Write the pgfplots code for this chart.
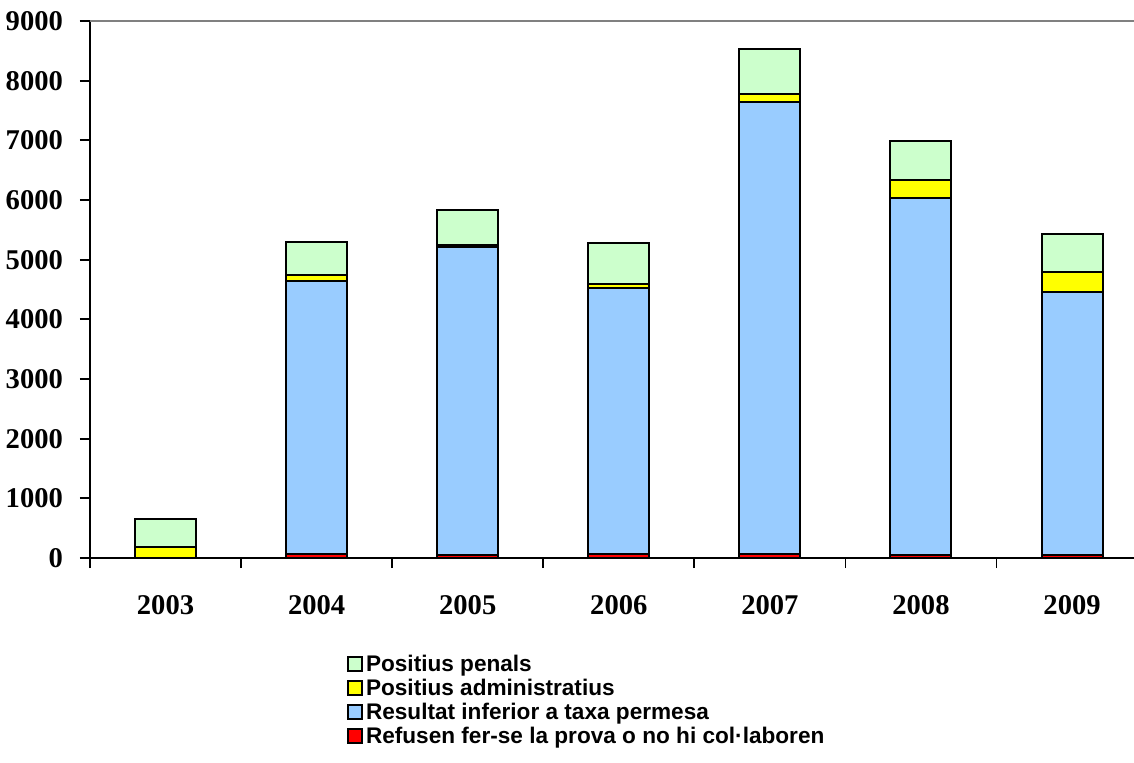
\documentclass[border=0pt]{standalone}
\usepackage{pgfplots}
\pgfplotsset{compat=1.18}
\usepackage{fontspec}
\setmainfont{Liberation Serif}
\newfontfamily\arialfont{Liberation Sans}
\definecolor{cgreen}{HTML}{CCFFCC}
\definecolor{cyellow}{HTML}{FFFF00}
\definecolor{cblue}{HTML}{99CCFF}
\definecolor{cred}{HTML}{FF0000}
\begin{document}
\begin{tikzpicture}
\begin{axis}[
  at={(0,0)}, anchor=south west,
  scale only axis,
  width=522pt, height=268.5pt,
  xmin=-0.5, xmax=6.41,
  ymin=0, ymax=9000,
  ybar stacked,
  bar width=30.5pt,
  axis x line*=bottom,
  axis y line*=left,
  axis line style={line width=0.9pt},
  tick align=outside,
  major tick length=5pt,
  tick style={line width=0.9pt, black},
  ytick={0,1000,...,9000},
  xtick={-0.5,0.5,...,5.5},
  xticklabels={},
  extra x ticks={0,1,2,3,4,5,6},
  extra x tick labels={2003,2004,2005,2006,2007,2008,2009},
  extra x tick style={major tick length=0pt},
  extra y ticks={9000},
  extra y tick labels={},
  extra y tick style={grid=major, major grid style={gray, line width=1pt}},
  /pgf/number format/1000 sep={},
  /pgf/number format/assume math mode=true,
  ticklabel style={font=\bfseries\fontsize{14.3}{16}\selectfont},
  xticklabel style={yshift=-15pt},
  yticklabel style={xshift=-5pt},
  legend reversed,
  legend style={draw=none, at={(axis description cs:0.246,-0.175)}, anchor=north west,
    font=\arialfont\bfseries\fontsize{11.3}{12}\selectfont,
    row sep=0pt, inner sep=0pt,
    nodes={inner sep=1.5pt, text height=8pt, text depth=1pt}},
  legend cell align=left,
  legend image code/.code={\draw[#1, line width=0.9pt] (0pt,-3.3pt) rectangle (7pt,3.7pt);},
  every axis plot/.append style={draw=black, line width=1pt},
]
\addplot[fill=cred] coordinates {(0,0) (1,65) (2,55) (3,60) (4,65) (5,55) (6,50)};
\addplot[fill=cblue] coordinates {(0,0) (1,4575) (2,5160) (3,4460) (4,7585) (5,5985) (6,4410)};
\addplot[fill=cyellow] coordinates {(0,180) (1,95) (2,25) (3,70) (4,130) (5,300) (6,330)};
\addplot[fill=cgreen] coordinates {(0,475) (1,555) (2,600) (3,685) (4,750) (5,655) (6,640)};
\legend{Refusen fer-se la prova o no hi col·laboren, Resultat inferior a taxa permesa, Positius administratius, Positius penals}
\end{axis}
\pgfresetboundingbox
\path[use as bounding box] (-45pt,-102pt) rectangle (522pt,279pt);
\end{tikzpicture}
\end{document}
